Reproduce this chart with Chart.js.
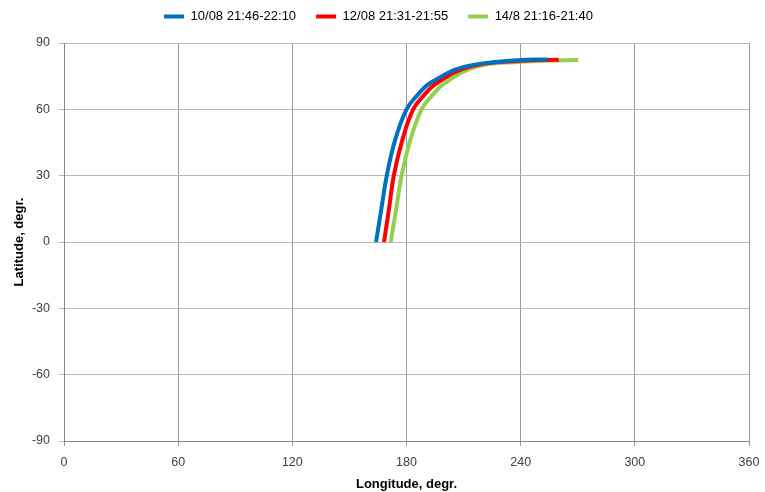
<!DOCTYPE html>
<html>
<head>
<meta charset="utf-8">
<script src="https://cdn.jsdelivr.net/npm/chart.js@4"></script>
<style>
  html, body { margin: 0; padding: 0; background: #fff; }
  #wrap { width: 765px; height: 492px; }
</style>
</head>
<body>
<div id="wrap"><canvas id="chart"></canvas></div>
<script>
// ---------- DATA ----------
const seriesNames = ["10/08 21:46-22:10", "12/08 21:31-21:55", "14/8 21:16-21:40"];
const seriesColors = ["#0070c0", "#ff0000", "#92d050"];

const lon1 = [164, 166.8, 169.7, 174, 180, 185.3, 192.3, 210.7, 240, 254];
const lat1 = [0, 15, 30.3, 46.1, 60, 66, 71.8, 79.3, 82.3, 82.5];

const lon2 = [168.2, 170.8, 173.4, 177.8, 183.5, 188.8, 195.8, 213.4, 240, 260];
const lat2 = [0, 15, 30.3, 46.1, 60, 66, 71.8, 79.3, 82, 82.4];

const lon3 = [171.7, 174.6, 177.5, 182, 187.9, 193.2, 200, 216.9, 240, 255, 270.3];
const lat3 = [0, 15, 30.3, 46.1, 60, 66, 71.8, 79.3, 81.5, 82.1, 82.3];

const xTicks = [0, 60, 120, 180, 240, 300, 360];
const yTicks = [-90, -60, -30, 0, 30, 60, 90];

function pts(lon, lat) {
  return lon.map((v, i) => ({ x: v, y: lat[i] }));
}

const allLon = [lon1, lon2, lon3];
const allLat = [lat1, lat2, lat3];

let datasets = seriesNames.map((name, i) => ({
  label: name,
  data: pts(allLon[i], allLat[i]),
  borderColor: seriesColors[i],
  backgroundColor: seriesColors[i],
  borderWidth: 4,
  showLine: true,
  pointRadius: 0,
  tension: 0.4
}));

const family = "'Liberation Sans', Arial, sans-serif";
const tickFont = { family: family, size: 12.5 };
const titleFont = { family: family, size: 13, weight: "bold" };

// legend gets extra space below it
const legendGap = {
  id: "legendGap",
  beforeInit(chart) {
    const fit = chart.legend.fit;
    chart.legend.fit = function () {
      fit.call(this);
      this.height += 10;
    };
  }
};

let chart = new Chart(document.getElementById("chart"), {
  type: "scatter",
  data: { datasets: datasets },
  plugins: [legendGap],
  options: {
    responsive: true,
    maintainAspectRatio: false,
    animation: false,
    layout: { padding: { top: -10, right: 16, bottom: 0, left: 8 } },
    plugins: {
      legend: {
        position: "top",
        labels: {
          usePointStyle: true,
          pointStyle: "line",
          pointStyleWidth: 20,
          padding: 20,
          color: "#000",
          font: { family: family, size: 13 }
        }
      },
      tooltip: { enabled: false }
    },
    scales: {
      x: {
        type: "linear",
        min: 0, max: 360,
        afterBuildTicks: s => { s.ticks = xTicks.map(v => ({ value: v })); },
        grid: { color: "#9a9a9a", tickLength: 5 },
        border: { color: "#888" },
        ticks: { color: "#404040", font: tickFont, padding: 9 },
        title: { display: true, text: "Longitude, degr.", color: "#000",
                 font: titleFont, padding: { top: 8, bottom: 0 } },
        afterFit: s => { s.height = 51; s.paddingRight = 0; s.paddingLeft = 0; }
      },
      y: {
        type: "linear",
        min: -90, max: 90,
        afterBuildTicks: s => { s.ticks = yTicks.map(v => ({ value: v })); },
        grid: { color: "#b8b8b8", tickLength: 5 },
        border: { color: "#888" },
        ticks: { color: "#404040", font: tickFont, padding: 9 },
        title: { display: true, text: "Latitude, degr.", color: "#000",
                 font: titleFont, padding: { bottom: 6 } },
        afterFit: s => { s.width = 56; }
      }
    }
  }
});
</script>
</body>
</html>
